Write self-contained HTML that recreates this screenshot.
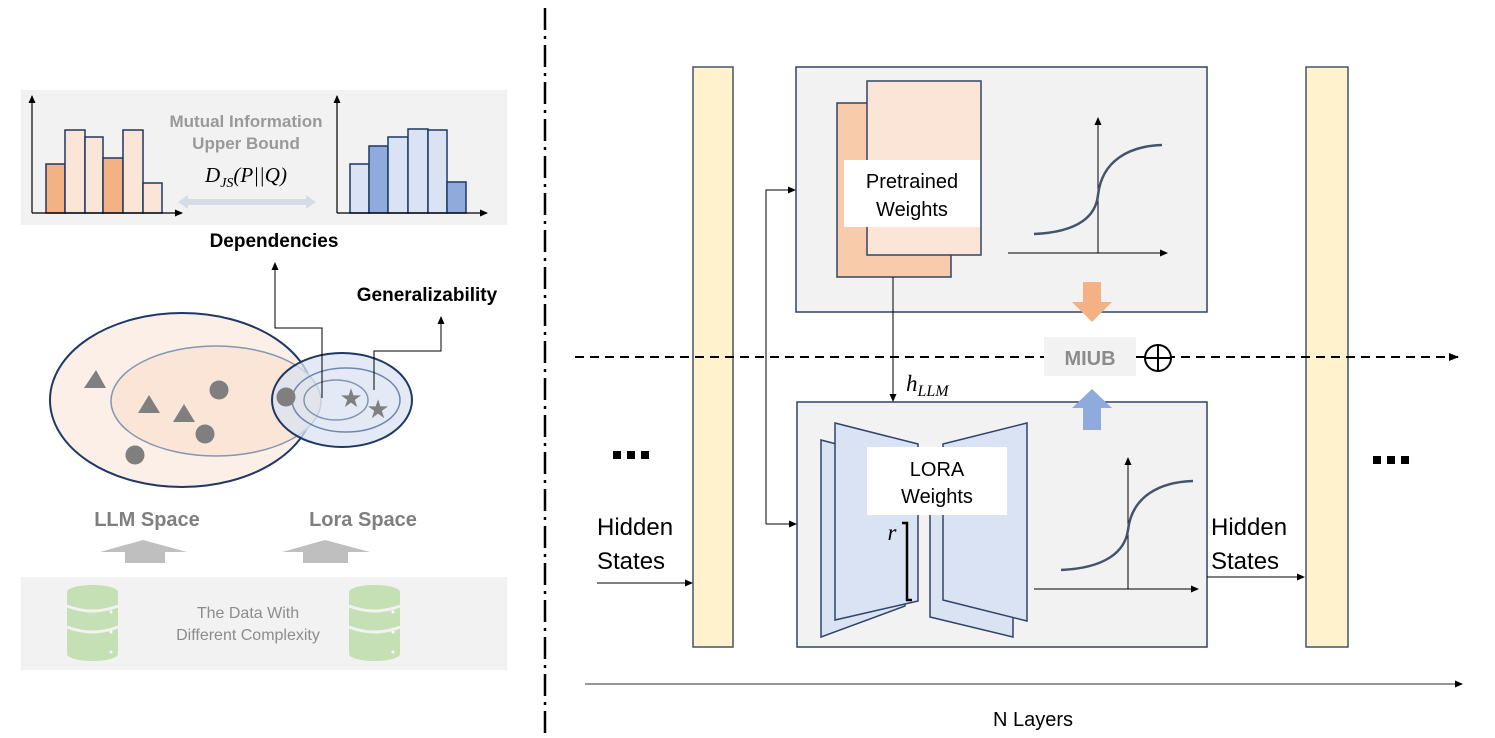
<!DOCTYPE html>
<html><head><meta charset="utf-8"><style>
html,body{margin:0;padding:0;background:#fff;}
svg{display:block;font-family:"Liberation Sans",sans-serif;}
</style></head><body>
<svg width="1495" height="738" viewBox="0 0 1495 738" xmlns="http://www.w3.org/2000/svg">
<defs>
<marker id="ah" markerWidth="10" markerHeight="8" refX="9" refY="4" orient="auto" markerUnits="userSpaceOnUse"><path d="M0,0 L10,4 L0,8 Z" fill="#000"/></marker>
<marker id="ahs" markerWidth="8" markerHeight="7" refX="7" refY="3.5" orient="auto" markerUnits="userSpaceOnUse"><path d="M0,0 L8,3.5 L0,7 Z" fill="#000"/></marker>
</defs>

<line x1="545" y1="8" x2="545" y2="738" stroke="#000" stroke-width="2.5" stroke-dasharray="22,6,3,6"/>

<rect x="21" y="90" width="486" height="135" fill="#f2f2f2"/>
<g stroke="#1f3864" stroke-width="1.5">
<rect x="46" y="164" width="19" height="49" fill="#f4b183"/>
<rect x="65" y="130" width="20" height="83" fill="#fbe5d6"/>
<rect x="85" y="137" width="18" height="76" fill="#fbe5d6"/>
<rect x="103" y="158" width="20" height="55" fill="#f4b183"/>
<rect x="123" y="130" width="20" height="83" fill="#fbe5d6"/>
<rect x="143" y="183" width="19" height="30" fill="#fbe5d6"/>
<rect x="350" y="164" width="19" height="49" fill="#dae3f3"/>
<rect x="369" y="146" width="19" height="67" fill="#8faadc"/>
<rect x="388" y="137" width="20" height="76" fill="#dae3f3"/>
<rect x="408" y="129" width="20" height="84" fill="#dae3f3"/>
<rect x="428" y="130" width="19" height="83" fill="#dae3f3"/>
<rect x="447" y="182" width="19" height="31" fill="#8faadc"/>
</g>
<g stroke="#000" stroke-width="1.2" fill="none">
<line x1="32" y1="213" x2="32" y2="96" marker-end="url(#ahs)"/>
<line x1="32" y1="213" x2="182" y2="213" marker-end="url(#ahs)"/>
<line x1="337" y1="213" x2="337" y2="96" marker-end="url(#ahs)"/>
<line x1="337" y1="213" x2="487" y2="213" marker-end="url(#ahs)"/>
</g>
<text x="246" y="127" font-size="17" fill="#999" text-anchor="middle" font-weight="bold">Mutual Information</text>
<text x="246" y="149" font-size="17" fill="#999" text-anchor="middle" font-weight="bold">Upper Bound</text>
<text x="246" y="182" font-size="21" fill="#000" text-anchor="middle" font-family="Liberation Serif" font-style="italic">D<tspan font-size="14" dy="5">JS</tspan><tspan dy="-5">(P||Q)</tspan></text>
<polygon points="178,202 188,195 188,199 306,199 306,195 316,202 306,209 306,205 188,205 188,209" fill="#d6dce5"/>
<text x="274" y="247" font-size="19" font-weight="bold" text-anchor="middle">Dependencies</text>
<text x="427" y="301" font-size="19" font-weight="bold" text-anchor="middle">Generalizability</text>

<ellipse cx="182" cy="400" rx="132" ry="87" fill="#fcefe8" stroke="#1f3864" stroke-width="2"/>
<ellipse cx="216" cy="401" rx="105" ry="55" fill="#fbe5d6" stroke="#8497b0" stroke-width="1.5"/>
<ellipse cx="342" cy="400" rx="70" ry="47" fill="#dae3f3" fill-opacity="0.75" stroke="#1f3864" stroke-width="2"/>
<ellipse cx="346" cy="400" rx="54" ry="32" fill="none" stroke="#6f86ab" stroke-width="1.5"/>
<ellipse cx="336" cy="400" rx="32" ry="20" fill="none" stroke="#8497b0" stroke-width="1.5"/>
<g fill="#7f7f7f">
<polygon points="96,370 106,388 84,388"/>
<polygon points="149,395 160,413 138,413"/>
<polygon points="184,404 195,422 173,422"/>
<circle cx="219" cy="390" r="9.5"/>
<circle cx="205" cy="434" r="9.5"/>
<circle cx="135" cy="455" r="9.5"/>
<circle cx="286" cy="397" r="9.5"/>
<text x="351" y="407" font-size="26" text-anchor="middle" font-family="DejaVu Sans">★</text>
<text x="378" y="418" font-size="26" text-anchor="middle" font-family="DejaVu Sans">★</text>
</g>
<g stroke="#000" stroke-width="1" fill="none">
<polyline points="322,398 322,328 275,328 275,263" marker-end="url(#ahs)"/>
<polyline points="374,390 374,351 441,351 441,317" marker-end="url(#ahs)"/>
</g>
<text x="147" y="526" font-size="20" fill="#7f7f7f" text-anchor="middle" font-weight="bold">LLM Space</text>
<text x="363" y="526" font-size="20" fill="#7f7f7f" text-anchor="middle" font-weight="bold">Lora Space</text>
<polygon points="100,552 143,540 187,552 165,552 165,563 125,563 125,552" fill="#bfbfbf"/>
<polygon points="282,552 325,540 370,552 348,552 348,563 303,563 303,552" fill="#bfbfbf"/>
<rect x="21" y="577" width="486" height="93" fill="#f2f2f2"/>
<g fill="#c5e0b4">
<rect x="67" y="591" width="51" height="64" rx="4"/>
<ellipse cx="92.5" cy="592" rx="25.5" ry="7"/>
<ellipse cx="92.5" cy="654" rx="25.5" ry="7"/>
<rect x="349" y="591" width="51" height="64" rx="4"/>
<ellipse cx="374.5" cy="592" rx="25.5" ry="7"/>
<ellipse cx="374.5" cy="654" rx="25.5" ry="7"/>
</g>
<g stroke="#f2f2f2" stroke-width="3" fill="none">
<path d="M67,606 Q92.5,616 118,606"/><path d="M67,627 Q92.5,637 118,627"/>
<path d="M349,606 Q374.5,616 400,606"/><path d="M349,627 Q374.5,637 400,627"/>
</g>
<g fill="#fff"><circle cx="111" cy="612" r="1.5"/><circle cx="111" cy="632" r="1.5"/><circle cx="111" cy="652" r="1.5"/>
<circle cx="393" cy="612" r="1.5"/><circle cx="393" cy="632" r="1.5"/><circle cx="393" cy="652" r="1.5"/></g>
<text x="248" y="618" font-size="16" fill="#8c8c8c" text-anchor="middle">The Data With</text>
<text x="248" y="640" font-size="16" fill="#8c8c8c" text-anchor="middle">Different Complexity</text>

<rect x="693" y="67" width="40" height="580" fill="#fff2cc" stroke="#44546a" stroke-width="1.5"/>
<rect x="1306" y="67" width="42" height="580" fill="#fff2cc" stroke="#44546a" stroke-width="1.5"/>
<rect x="796" y="67" width="411" height="245" fill="#f2f2f2" stroke="#2f4468" stroke-width="1.5"/>
<rect x="797" y="402" width="410" height="245" fill="#f2f2f2" stroke="#2f4468" stroke-width="1.5"/>

<rect x="837" y="103" width="114" height="174" fill="#f8cbad" stroke="#2f4468" stroke-width="1.5"/>
<rect x="867" y="81" width="114" height="174" fill="#fbe5d6" stroke="#2f4468" stroke-width="1.5"/>
<rect x="844" y="160" width="136" height="67" fill="#fff"/>
<text x="912" y="188" font-size="20" text-anchor="middle">Pretrained</text>
<text x="912" y="216" font-size="20" text-anchor="middle">Weights</text>

<g stroke="#000" stroke-width="1" fill="none">
<line x1="1008" y1="253" x2="1167" y2="253" marker-end="url(#ahs)"/>
<line x1="1098" y1="253" x2="1098" y2="118" marker-end="url(#ahs)"/>
<line x1="1034" y1="589" x2="1198" y2="589" marker-end="url(#ahs)"/>
<line x1="1128" y1="589" x2="1128" y2="458" marker-end="url(#ahs)"/>
</g>
<path d="M1034,234 C1080,232 1096,215 1098,195 C1102,160 1130,146 1162,145" stroke="#44546a" stroke-width="2.5" fill="none"/>
<path d="M1061,570 C1105,568 1125,552 1128,530 C1132,496 1160,482 1193,481" stroke="#44546a" stroke-width="2.5" fill="none"/>

<g stroke="#2f4468" stroke-width="1.5" fill="#dae3f3">
<polygon points="821,440 905,462 905,606 821,637"/>
<polygon points="835,423 918,444 918,601 835,620"/>
<polygon points="930,460 1013,440 1013,637 930,617"/>
<polygon points="943,444 1027,423 1027,621 943,600"/>
</g>
<rect x="867" y="447" width="140" height="68" fill="#fff"/>
<text x="937" y="476" font-size="20" text-anchor="middle">LORA</text>
<text x="937" y="503" font-size="20" text-anchor="middle">Weights</text>
<polyline points="902,523 907,523 907,600 912,600" stroke="#000" stroke-width="2.5" fill="none"/>
<text x="892" y="540" font-size="23" text-anchor="middle" font-family="Liberation Serif" font-style="italic">r</text>

<polygon points="1083,282 1101,282 1101,302 1112,302 1092,322 1072,302 1083,302" fill="#f4b183"/>
<polygon points="1083,430 1101,430 1101,408 1112,408 1092,389 1072,408 1083,408" fill="#8faadc"/>

<line x1="575" y1="357" x2="1044" y2="357" stroke="#000" stroke-width="2" stroke-dasharray="9,6"/>
<line x1="1136" y1="357" x2="1458" y2="357" stroke="#000" stroke-width="2" stroke-dasharray="9,6" marker-end="url(#ah)"/>
<rect x="1044" y="337" width="92" height="39" fill="#f2f2f2"/>
<text x="1090" y="365" font-size="20" fill="#8c8c8c" text-anchor="middle" font-weight="bold">MIUB</text>
<circle cx="1158" cy="358" r="13" fill="#fff" stroke="#000" stroke-width="2"/>
<line x1="1145" y1="358" x2="1171" y2="358" stroke="#000" stroke-width="2"/>
<line x1="1158" y1="345" x2="1158" y2="371" stroke="#000" stroke-width="2"/>

<g stroke="#000" stroke-width="1" fill="none">
<line x1="893" y1="277" x2="893" y2="401" marker-end="url(#ahs)"/>
<polyline points="766,524 766,190 795,190" marker-end="url(#ahs)"/>
<line x1="766" y1="524" x2="796" y2="524" marker-end="url(#ahs)"/>
<line x1="597" y1="583" x2="692" y2="583" marker-end="url(#ahs)"/>
<line x1="1207" y1="577" x2="1304" y2="577" marker-end="url(#ahs)"/>
</g>
<line x1="585" y1="684" x2="1462" y2="684" stroke="#595959" stroke-width="1.2" marker-end="url(#ahs)"/>
<text x="906" y="391" font-size="23" font-family="Liberation Serif" font-style="italic">h<tspan font-size="16" dy="5">LLM</tspan></text>

<text x="597" y="535" font-size="24">Hidden</text>
<text x="597" y="569" font-size="24">States</text>
<text x="1211" y="535" font-size="24">Hidden</text>
<text x="1211" y="569" font-size="24">States</text>
<g fill="#000"><rect x="613" y="451" width="8" height="8"/><rect x="627" y="451" width="8" height="8"/><rect x="641" y="451" width="8" height="8"/>
<rect x="1373" y="456" width="8" height="8"/><rect x="1387" y="456" width="8" height="8"/><rect x="1401" y="456" width="8" height="8"/></g>
<text x="1033" y="726" font-size="20" text-anchor="middle">N Layers</text>
</svg>
</body></html>
